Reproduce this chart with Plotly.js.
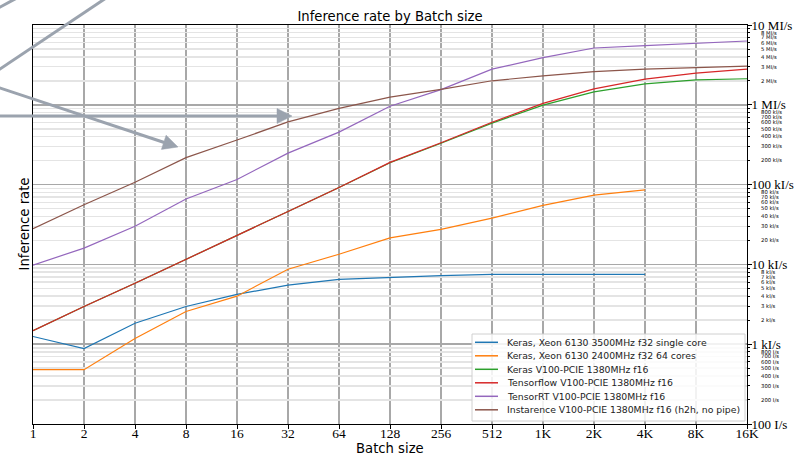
<!DOCTYPE html>
<html><head><meta charset="utf-8">
<script src="https://cdn.plot.ly/plotly-3.0.1.min.js"></script>
<style>html,body{margin:0;padding:0;background:#fff}#chart{width:794px;height:455px}</style>
</head><body><div id="chart"></div>
<script>
// ---------- data ----------
const batchSizes = [1,2,4,8,16,32,64,128,256,512,1024,2048,4096,8192,16384];
const xTickText = ['1','2','4','8','16','32','64','128','256','512','1K','2K','4K','8K','16K'];

const kerasXeonSingle = [1250, 880, 1830, 2970, 4200, 5500, 6500, 6900, 7250, 7500, 7550, 7600, 7500];
const kerasXeon64 = [480, 480, 1180, 2570, 4000, 8700, 13400, 21500, 27500, 38000, 55000, 74000, 86000];
const kerasV100 = [1480, 2970, 5800, 11500, 23000, 46000, 92000, 188000, 330000, 590000, 990000, 1450000, 1830000, 2050000, 2120000];
const tensorflowV100 = [1480, 2970, 5800, 11500, 23000, 46000, 92000, 190000, 335000, 605000, 1040000, 1580000, 2100000, 2500000, 2800000];
const tensorrtV100 = [9800, 16000, 30000, 66000, 116000, 248000, 455000, 960000, 1550000, 2800000, 3900000, 5150000, 5500000, 5900000, 6300000];
const instarenceV100 = [28000, 56000, 107000, 218000, 362000, 610000, 900000, 1250000, 1560000, 2000000, 2300000, 2600000, 2800000, 2950000, 3050000];

const seriesNames = [
  'Keras, Xeon 6130 3500MHz f32 single core',
  'Keras, Xeon 6130 2400MHz f32 64 cores',
  'Keras V100-PCIE 1380MHz f16',
  'Tensorflow V100-PCIE 1380MHz f16',
  'TensorRT V100-PCIE 1380MHz f16',
  'Instarence V100-PCIE 1380MHz f16 (h2h, no pipe)'
];
const seriesValues = [kerasXeonSingle, kerasXeon64, kerasV100, tensorflowV100, tensorrtV100, instarenceV100];
const seriesColors = ['#1f77b4','#ff7f0e','#2ca02c','#d62728','#9467bd','#8c564b'];

const yMajorVals = [1e2, 1e3, 1e4, 1e5, 1e6, 1e7];
const yMajorText = ['100 I/s','1 kI/s','10 kI/s','100 kI/s','1 MI/s','10 MI/s'];
const yMinorVals = [
  200,300,400,500,600,700,800,900,
  2e3,3e3,4e3,5e3,6e3,7e3,8e3,9e3,
  2e4,3e4,4e4,5e4,6e4,7e4,8e4,9e4,
  2e5,3e5,4e5,5e5,6e5,7e5,8e5,9e5,
  2e6,3e6,4e6,5e6,6e6,7e6,8e6,9e6
];
const yMinorText = [
  '200 I/s','300 I/s','400 I/s','500 I/s','600 I/s','700 I/s','800 I/s','',
  '2 kI/s','3 kI/s','4 kI/s','5 kI/s','6 kI/s','7 kI/s','8 kI/s','',
  '20 kI/s','30 kI/s','40 kI/s','50 kI/s','60 kI/s','70 kI/s','80 kI/s','',
  '200 kI/s','300 kI/s','400 kI/s','500 kI/s','600 kI/s','700 kI/s','800 kI/s','',
  '2 MI/s','3 MI/s','4 MI/s','5 MI/s','6 MI/s','7 MI/s','8 MI/s',''
];

// ---------- layout helpers (pixels -> paper) ----------
const L = 33, R = 747, T = 25, B = 424, W = 794, H = 455;
const px = p => (p - L) / (R - L);
const py = p => (B - p) / (B - T);

const traces = seriesValues.map((vals, i) => ({
  x: batchSizes.slice(0, vals.length),
  y: vals,
  type: 'scatter', mode: 'lines',
  name: seriesNames[i],
  line: {color: seriesColors[i], width: 1.2},
  hoverinfo: 'skip', showlegend: false
}));
// empty trace to materialise the minor-tick axis
traces.push({x: [], y: [], type: 'scatter', mode: 'lines', yaxis: 'y2', showlegend: false, hoverinfo: 'skip'});

// ---------- decorative grey arrows (pixel geometry) ----------
const arrowColor = '#9ba3ae';
const shapes = [];
function seg(x0, y0, x1, y1) {
  shapes.push({type:'line', xref:'paper', yref:'paper', x0:px(x0), y0:py(y0), x1:px(x1), y1:py(y1),
    line:{color:arrowColor, width:3}});
}
function head(tx, ty, fx, fy) {
  const dx = tx - fx, dy = ty - fy, len = Math.hypot(dx, dy);
  const ux = dx / len, uy = dy / len, nx = -uy, ny = ux;
  const bx = tx - 15 * ux, by = ty - 15 * uy;
  const p = [[tx, ty], [bx + 7.5 * nx, by + 7.5 * ny], [bx - 7.5 * nx, by - 7.5 * ny]];
  const path = 'M' + p.map(q => px(q[0]) + ',' + py(q[1])).join('L') + 'Z';
  shapes.push({type:'path', xref:'paper', yref:'paper', path: path,
    fillcolor: arrowColor, line:{color:arrowColor, width:0.5}});
  return [bx, by];
}
seg(-30, 89, 133, -20);
seg(-20, 17.8, 30, -9);
let b = head(292, 116, 0, 116);
seg(-10, 116, b[0] + 1, 116);
b = head(178, 147, 0, 88);
seg(-10, 88 - 10 * (59 / 178), b[0] + 0.5, b[1] + 0.2);

const annotations = [
  {xref:'paper', yref:'paper', x:px(24), y:0.5, text:'Inference rate', textangle:-90, showarrow:false,
   xanchor:'center', yanchor:'middle', font:{family:'DejaVu Sans', size:13.2, color:'#000'}},
  {xref:'paper', yref:'paper', x:0.5, y:py(448), text:'Batch size', showarrow:false,
   xanchor:'center', yanchor:'middle', font:{family:'DejaVu Sans', size:13.2, color:'#000'}}
];

// ---------- custom legend ----------
const legL = 472, legR = 745, legT = 334, legB = 421;
shapes.push({type:'rect', xref:'paper', yref:'paper', x0:px(legL), x1:px(legR), y0:py(legB), y1:py(legT),
  fillcolor:'rgba(255,255,255,0.85)', line:{color:'#d0d0d0', width:1}});
seriesNames.forEach((name, i) => {
  const cy = 342.3 + 13.5 * i;
  shapes.push({type:'line', xref:'paper', yref:'paper', x0:px(475), x1:px(498), y0:py(cy), y1:py(cy),
    line:{color:seriesColors[i], width:1.5}});
  annotations.push({xref:'paper', yref:'paper', x:px(505), y:py(cy), text:name, showarrow:false,
    xanchor:'left', yanchor:'middle', font:{family:'DejaVu Sans', size:9.3, color:'#222'}});
});

const layout = {
  width: W, height: H,
  margin: {l: L, r: W - R, t: T, b: H - B, pad: 0},
  paper_bgcolor: '#fff', plot_bgcolor: '#fff',
  showlegend: false,
  title: {text: 'Inference rate by Batch size', xref: 'paper', x: 0.5, xanchor: 'center',
          yref: 'container', y: 1 - 16 / H, yanchor: 'middle',
          font: {family: 'DejaVu Sans', size: 13.2, color: '#000'}},
  xaxis: {
    type: 'log', range: [0, Math.log10(16384)],
    tickvals: batchSizes, ticktext: xTickText,
    tickfont: {family: 'Liberation Serif', size: 13.5, color: '#000'},
    ticks: 'outside', ticklen: 4, tickcolor: '#000', ticklabelstandoff: -7,
    showgrid: true, gridcolor: '#a8a8a8', gridwidth: 1.5,
    showline: true, linecolor: '#000', linewidth: 1, mirror: true,
    zeroline: false, fixedrange: true
  },
  yaxis: {
    type: 'log', range: [2, 7], side: 'right',
    tickvals: yMajorVals, ticktext: yMajorText,
    tickfont: {family: 'Liberation Serif', size: 13, color: '#000'},
    ticks: 'outside', ticklen: 4, tickcolor: '#000', ticklabelstandoff: -3,
    showgrid: true, gridcolor: '#a8a8a8', gridwidth: 1.5,
    showline: true, linecolor: '#000', linewidth: 1, mirror: true,
    zeroline: false, fixedrange: true
  },
  yaxis2: {
    type: 'log', range: [2, 7], side: 'right', overlaying: 'y', anchor: 'x',
    tickvals: yMinorVals, ticktext: yMinorText,
    tickfont: {family: 'DejaVu Sans', size: 5.3, color: '#000'},
    ticks: 'outside', ticklen: 2, tickcolor: '#000', ticklabelstandoff: 10,
    showgrid: true, gridcolor: '#e4e4e4', gridwidth: 1.5,
    showline: false, zeroline: false, fixedrange: true
  },
  shapes: shapes,
  annotations: annotations
};

Plotly.newPlot('chart', traces, layout, {staticPlot: true, displayModeBar: false});
</script>
</body></html>
